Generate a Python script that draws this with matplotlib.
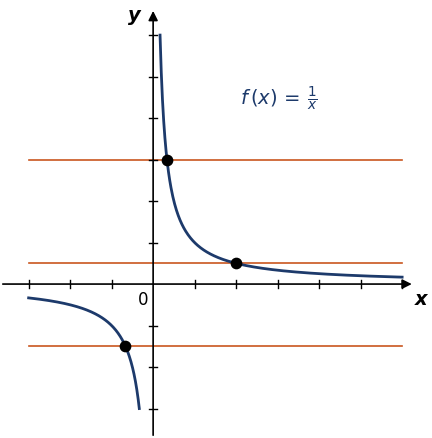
import numpy as np
import matplotlib.pyplot as plt

x_ticks = [-3, -2, -1, 1, 2, 3, 4, 5, 6]
y_ticks = [-3, -2, -1, 1, 2, 3, 4, 5, 6]
h_lines = [3, 0.5, -1.5]
pts_x = [1/3, 2, -2/3]
pts_y = [3, 0.5, -1.5]

fig = plt.figure(figsize=(4.32, 4.39), dpi=100)
ax = fig.add_axes([0, 0, 1, 1])
ax.set_xlim(-3.69, 6.72)
ax.set_ylim(-3.71, 6.87)
ax.axis('off')

navy = '#1d3a6b'
orange = '#c9561f'
for h in h_lines:
    ax.plot([-3, 6], [h, h], color=orange, lw=1.2, zorder=1)

ax.annotate('', xy=(6.3, 0), xytext=(-3.69, 0),
            arrowprops=dict(arrowstyle='-|>', color='black', lw=1.2, mutation_scale=14))
ax.annotate('', xy=(0, 6.65), xytext=(0, -3.71),
            arrowprops=dict(arrowstyle='-|>', color='black', lw=1.2, mutation_scale=14))
for t in x_ticks:
    ax.plot([t, t], [-0.1, 0.1], color='black', lw=1)
for t in y_ticks:
    ax.plot([-0.1, 0.1], [t, t], color='black', lw=1)

xp = np.linspace(1/6, 6, 400)
ax.plot(xp, 1/xp, color=navy, lw=2, zorder=2)
xn = np.linspace(-3, -1/3, 400)
ax.plot(xn, 1/xn, color=navy, lw=2, zorder=2)
ax.scatter(pts_x, pts_y, s=55, color='black', zorder=3)

ax.text(6.45, -0.35, 'x', fontsize=14, fontweight='bold', style='italic', ha='center', va='center')
ax.text(-0.45, 6.5, 'y', fontsize=14, fontweight='bold', style='italic', ha='center', va='center')
ax.text(-0.25, -0.35, '0', fontsize=12, ha='center', va='center')
ax.text(2.1, 4.5, r'$f\,(x)\,=\,\frac{1}{x}$', fontsize=14, color=navy, ha='left', va='center')

fig.savefig('out.png', dpi=100)
